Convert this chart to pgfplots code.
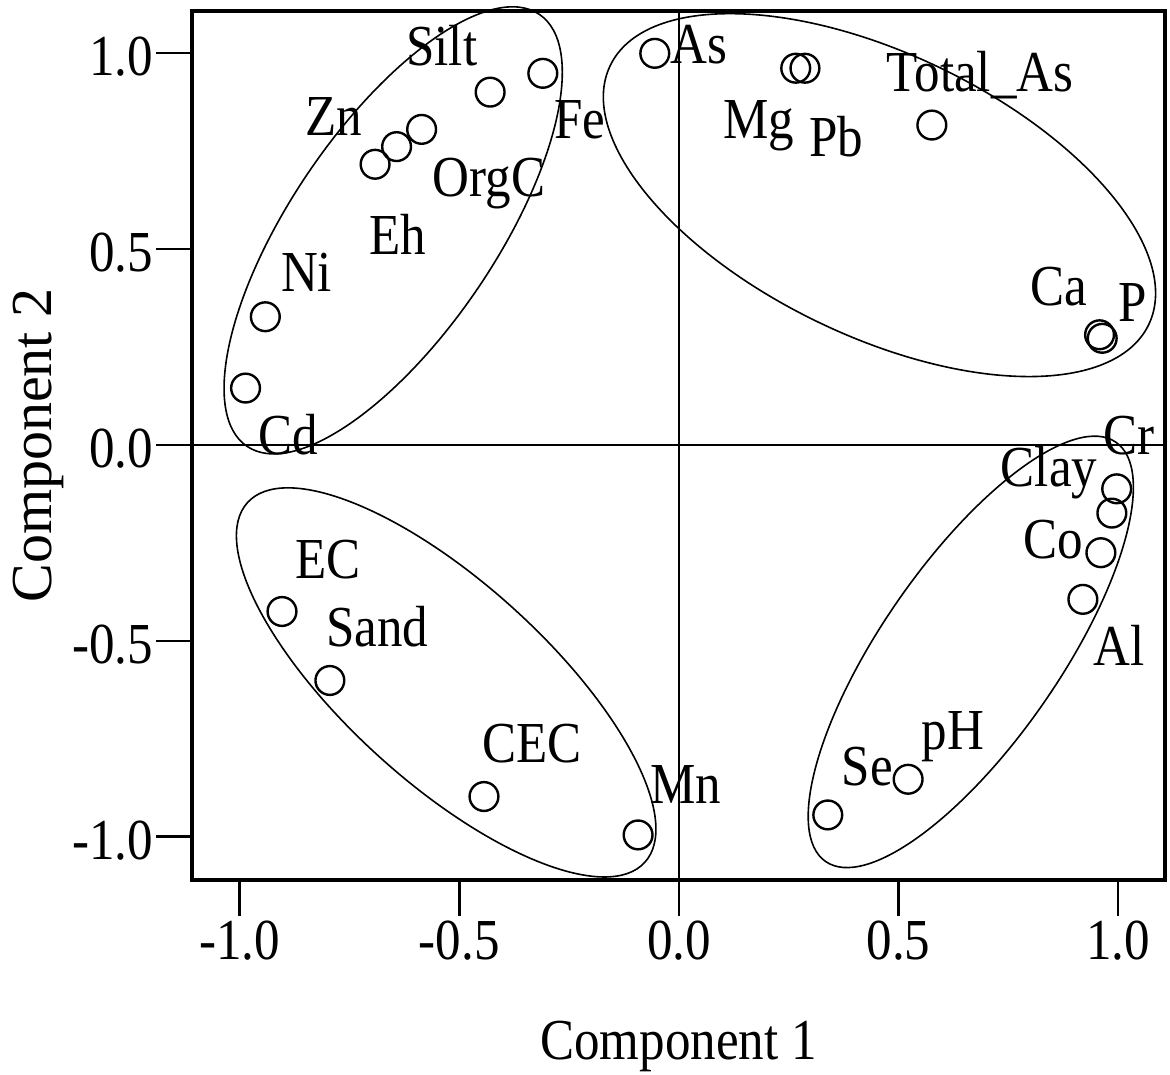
\documentclass[border=0pt]{standalone}
\usepackage{fontspec}
\setmainfont{Liberation Serif}[FakeStretch=0.88]
\newfontfamily\ylabfont{Liberation Serif}
\usepackage{pgfplots}
\pgfplotsset{compat=1.18}

% component loadings (component 1, component 2)
\pgfplotstableread{
x      y
-0.055  0.999
-0.310  0.948
-0.430  0.900
-0.586  0.805
-0.643  0.761
-0.692  0.716
-0.942  0.327
-0.987  0.145
 0.266  0.961
 0.287  0.961
 0.576  0.816
 0.958  0.281
 0.964  0.272
 0.997 -0.112
 0.986 -0.174
 0.961 -0.275
 0.920 -0.394
 0.522 -0.853
 0.339 -0.944
-0.904 -0.425
-0.795 -0.601
-0.444 -0.897
-0.093 -0.995
}\loadings

\begin{document}
\fontsize{14.5}{17}\selectfont
\begin{tikzpicture}
\begin{axis}[
  scale only axis,
  width=243.25pt, height=217.25pt,
  xmin=-1.109, xmax=1.107,
  ymin=-1.110, ymax=1.107,
  clip=false,
  axis line style={line width=0.8pt},
  tick align=outside,
  xtick pos=bottom, ytick pos=left,
  major tick length=9pt,
  every tick/.style={black, line width=0.7pt},
  xtick={-1,-0.5,0,0.5,1},
  xticklabels={-1.0,-0.5,0.0,0.5,1.0},
  ytick={-1,-0.5,0,0.5,1},
  yticklabels={-1.0,-0.5,0.0,0.5,1.0},
  xticklabel style={inner sep=1pt},
  yticklabel style={inner sep=0.5pt, yshift=-1pt},
  xlabel={Component 1},
  ylabel={\ylabfont Component 2},
  xlabel style={at={(axis description cs:0.5,-0.2071)}, anchor=base},
  ylabel style={at={(axis description cs:-0.1449,0.5)}, anchor=base},
]
\coordinate (sw) at (rel axis cs:0,0);
\coordinate (ne) at (rel axis cs:1,1);

\draw[line width=0.65pt] (axis cs:0,-1.110) -- (axis cs:0,1.107);
\draw[line width=0.65pt] (axis cs:-1.109,0) -- (axis cs:1.107,0);

\addplot[only marks, mark=o, mark size=3.6pt, mark options={line width=0.6pt}]
  table[x=x, y=y] {\loadings};

\draw[line width=0.4pt, rotate around={55.9:(axis cs:-0.6508,0.5474)}]
  (axis cs:-0.6508,0.5474) ellipse [x radius=65.2pt, y radius=25.65pt];
\draw[line width=0.4pt, rotate around={-25.7:(axis cs:0.4567,0.6373)}]
  (axis cs:0.4567,0.6373) ellipse [x radius=74.7pt, y radius=35.25pt];
\draw[line width=0.4pt, rotate around={-42.15:(axis cs:-0.5301,-0.6059)}]
  (axis cs:-0.5301,-0.6059) ellipse [x radius=67pt, y radius=25pt];
\draw[line width=0.4pt, rotate around={55.3:(axis cs:0.6647,-0.528)}]
  (axis cs:0.6647,-0.528) ellipse [x radius=63.75pt, y radius=22.25pt];

\node[anchor=base] at (axis cs:-0.540,0.968) {Silt};
\node[anchor=base] at (axis cs:-0.787,0.789) {Zn};
\node[anchor=base] at (axis cs:-0.2255,0.782) {Fe};
\node[anchor=base] at (axis cs:-0.433,0.633) {OrgC};
\node[anchor=base] at (axis cs:-0.641,0.486) {Eh};
\node[anchor=base] at (axis cs:-0.848,0.391) {Ni};
\node[anchor=base] at (axis cs:-0.890,-0.0255) {Cd};
\node[anchor=base] at (axis cs:0.0456,0.974) {As};
\node[anchor=base] at (axis cs:0.182,0.782) {Mg};
\node[anchor=base] at (axis cs:0.358,0.735) {Pb};
\node[anchor=base] at (axis cs:0.686,0.901) {Total\_As};
\node[anchor=base] at (axis cs:0.866,0.355) {Ca};
\node[anchor=base] at (axis cs:1.034,0.3145) {P};
\node[anchor=base] at (axis cs:1.025,-0.0255) {Cr};
\node[anchor=base] at (axis cs:0.843,-0.106) {Clay};
\node[anchor=base] at (axis cs:0.852,-0.289) {Co};
\node[anchor=base] at (axis cs:1.002,-0.564) {Al};
\node[anchor=base] at (axis cs:0.624,-0.778) {pH};
\node[anchor=base] at (axis cs:0.429,-0.870) {Se};
\node[anchor=base] at (axis cs:-0.799,-0.340) {EC};
\node[anchor=base] at (axis cs:-0.687,-0.5145) {Sand};
\node[anchor=base] at (axis cs:-0.334,-0.810) {CEC};
\node[anchor=base] at (axis cs:0.016,-0.916) {Mn};
\end{axis}
\pgfresetboundingbox
\path ([shift={(-48pt,-48.5pt)}]sw) rectangle ([shift={(1.25pt,2.75pt)}]ne);
\end{tikzpicture}
\end{document}
